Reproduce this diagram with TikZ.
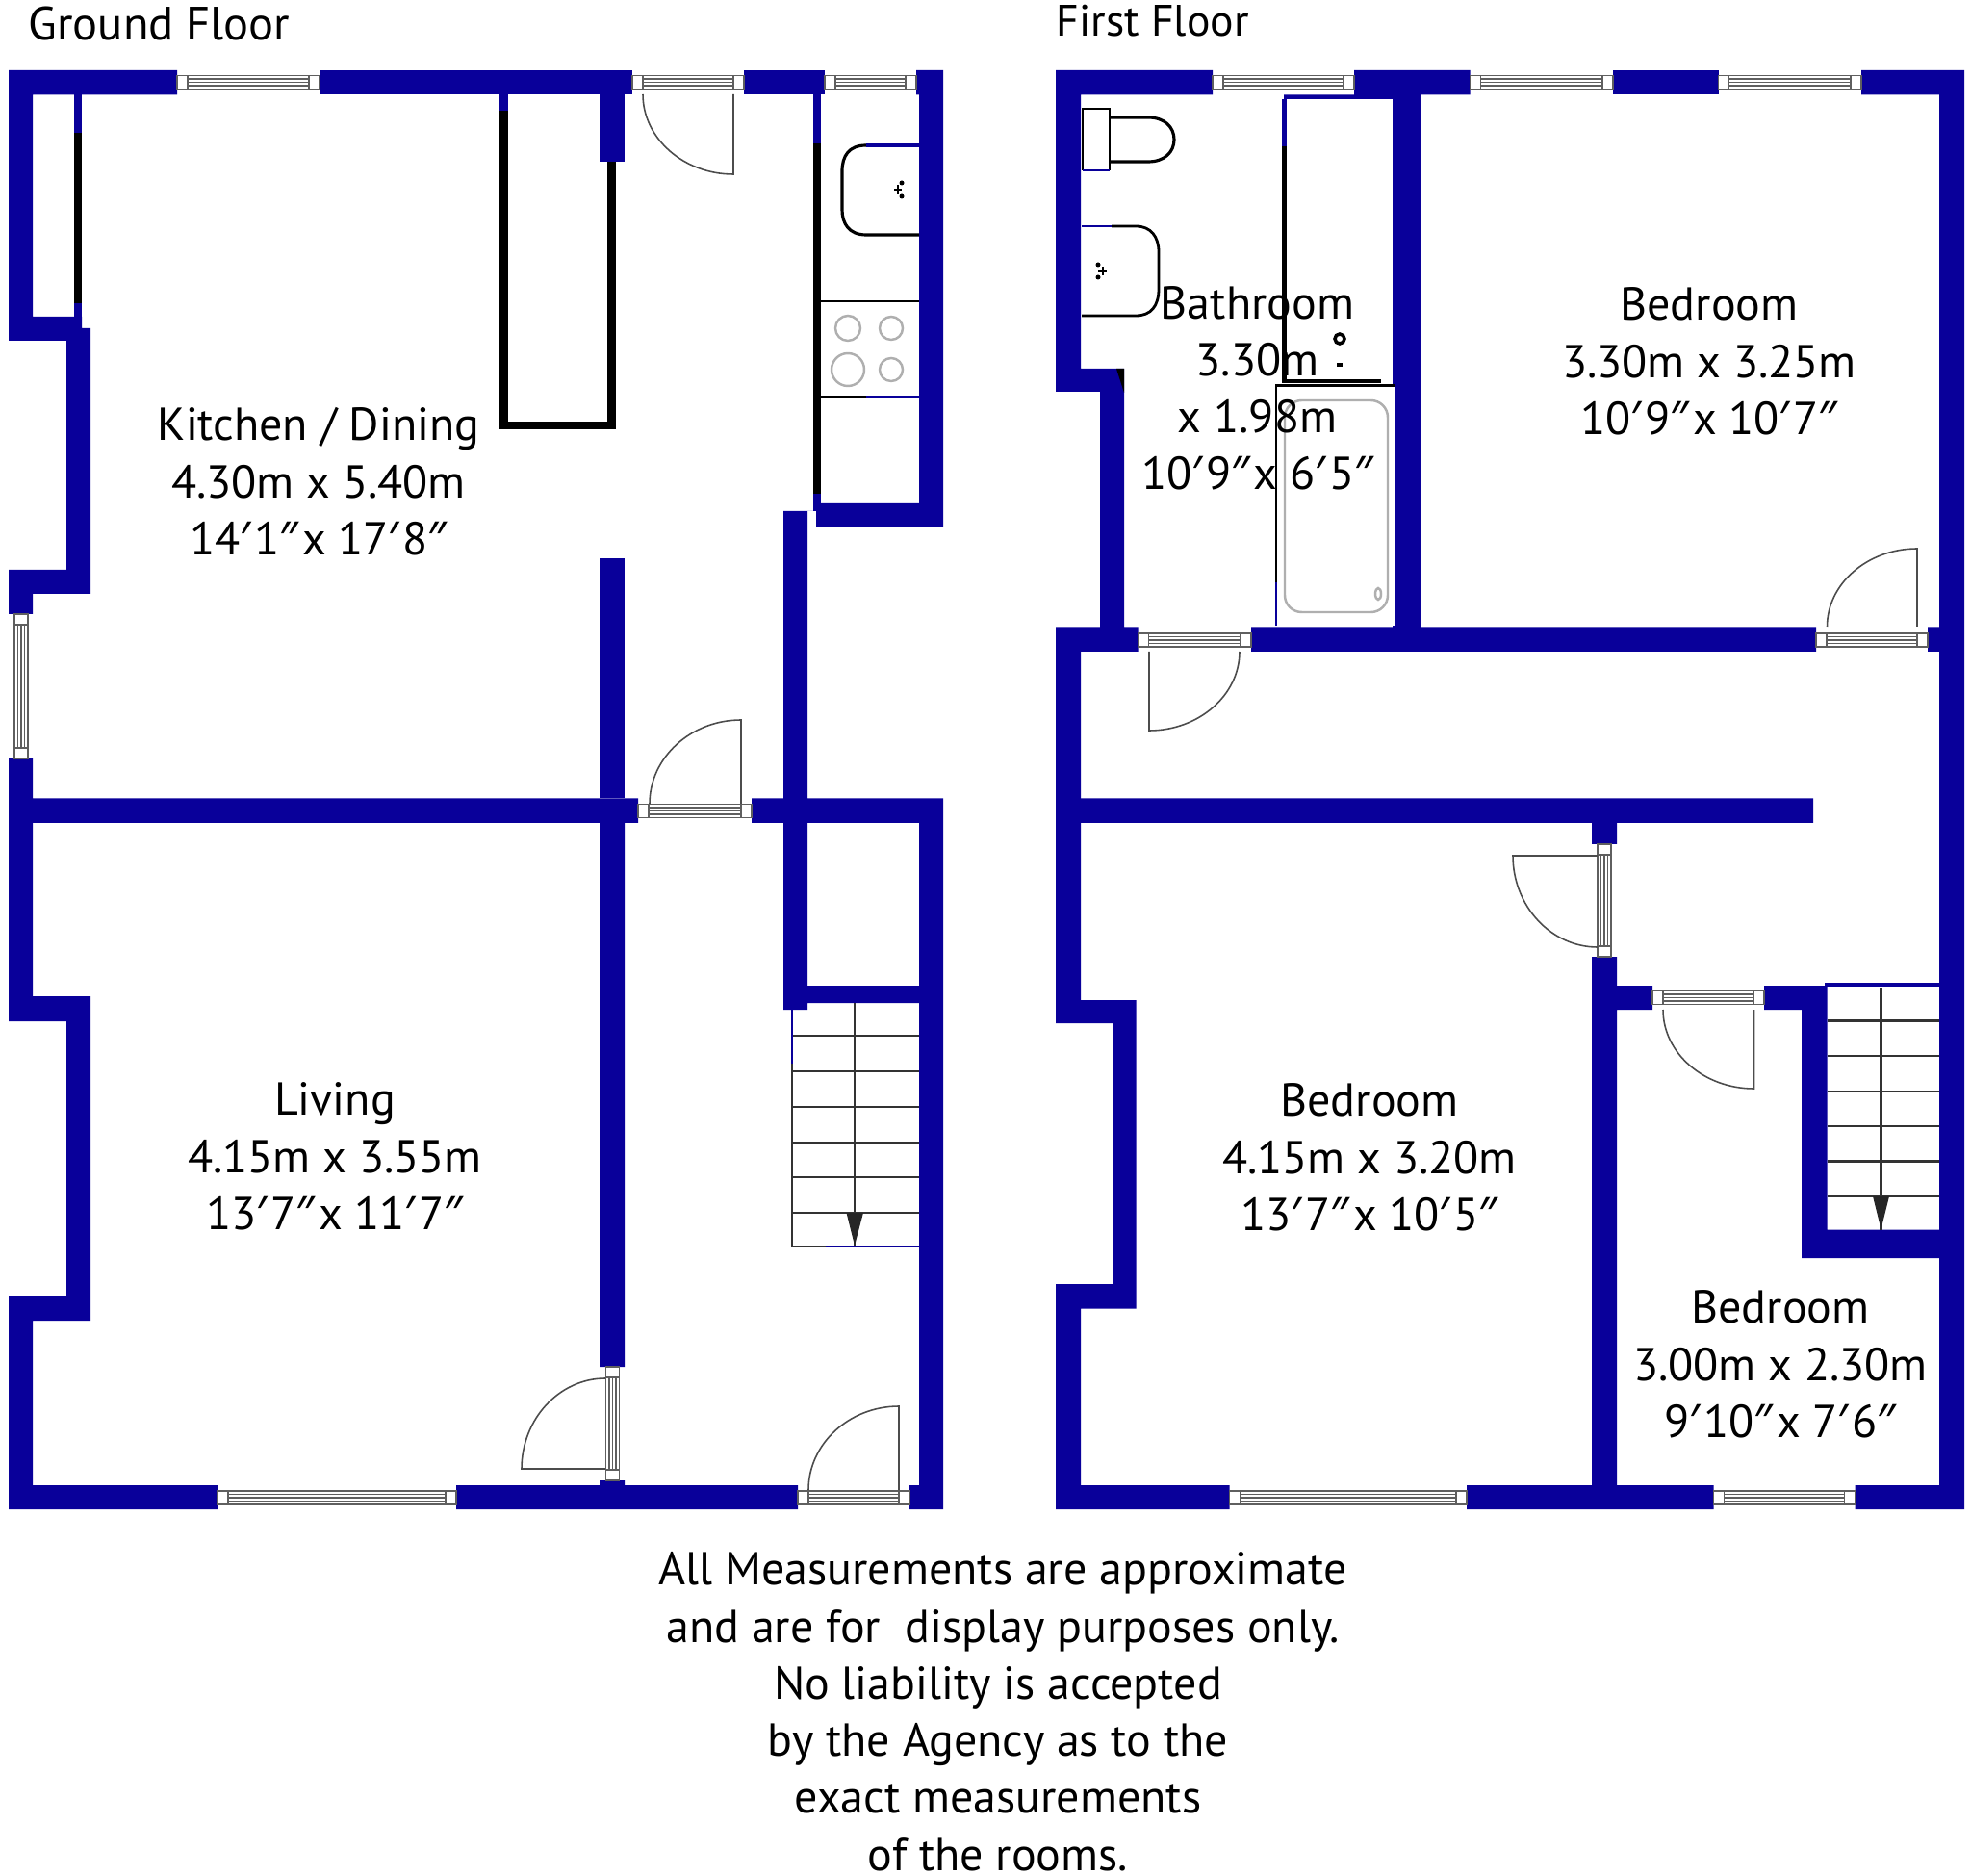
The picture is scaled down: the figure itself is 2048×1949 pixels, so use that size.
\documentclass[tikz,border=0pt]{standalone}
\usepackage{fontspec}
\setmainfont{PT Sans}
\newfontfamily\primefont{Noto Sans}
\usepackage{xcolor}
\definecolor{wallblue}{RGB}{9,0,154}
\definecolor{linegrey}{RGB}{95,95,95}
\definecolor{hobgrey}{RGB}{175,175,175}
\newcommand{\fmk}{{\primefont ′}\hspace{-2.6pt}}
\newcommand{\inmk}{{\primefont ″}\hspace{-2.6pt}}
\newcommand{\hwindow}[3]{%
  \draw[winline,fill=white] (#1,#3-7) rectangle (#2,#3+7);
  \draw[winline] (#1+11,#3-7) -- (#1+11,#3+7) (#2-11,#3-7) -- (#2-11,#3+7);
  \draw[winline] (#1+11,#3-3.5) -- (#2-11,#3-3.5) (#1+11,#3) -- (#2-11,#3) (#1+11,#3+3.5) -- (#2-11,#3+3.5);
}
\newcommand{\vwindow}[3]{%
  \draw[winline,fill=white] (#3-7,#1) rectangle (#3+7,#2);
  \draw[winline] (#3-7,#1+11) -- (#3+7,#1+11) (#3-7,#2-11) -- (#3+7,#2-11);
  \draw[winline] (#3-3.5,#1+11) -- (#3-3.5,#2-11) (#3,#1+11) -- (#3,#2-11) (#3+3.5,#1+11) -- (#3+3.5,#2-11);
}
\newcommand{\doorswing}[6]{%
  \draw[doorline] (#1,#2) -- (#3,#4) .. controls (#3+0.55*#5-0.55*#1,#4+0.55*#6-0.55*#2) and (#5+0.55*#3-0.55*#1,#6+0.55*#4-0.55*#2) .. (#5,#6);
}
\begin{document}
\begin{tikzpicture}[x=0.01cm,y=-0.01cm,
    wall/.style={fill=wallblue},
    winline/.style={draw=linegrey,line width=0.45pt},
    doorline/.style={draw=linegrey!80!black,line width=0.45pt},
    fitting/.style={draw=black,line width=0.6pt},
    blackwall/.style={draw=black,line width=2.4pt},
    bluewall/.style={draw=wallblue,line width=2.4pt},
    treadline/.style={draw=black!80,line width=0.6pt},
    roomlabel/.style={align=center,inner sep=0pt,text=black,
      font=\fontsize{13.65}{16.85}\selectfont,
      execute at begin node=\strut,execute at end node=\strut},
    noticelabel/.style={align=center,inner sep=0pt,text=black,anchor=north,text depth=0pt,
      font=\fontsize{13.65}{16.85}\selectfont,
      execute at begin node=\strut},
    floorlabel/.style={anchor=base west,inner sep=0pt,text=black,
      font=\fontsize{13.8}{16.85}\selectfont}]
  \useasboundingbox (0,0) rectangle (2048,1949);
  % Ground floor outer walls
  \fill[wall] (9,73) -- (184,73) -- (184,98.5) -- (34,98.5) -- (34,329) -- (85,329) -- (85,341) -- (94,341) -- (94,617) -- (34,617) -- (34,638) -- (9,638) -- (9,592) -- (69,592) -- (69,354) -- (9,354) -- cycle;
  \fill[wall] (332,73) rectangle (657,98.5);
  \fill[wall] (773,73) rectangle (857,98.5);
  \fill[wall] (952,73) -- (980,73) -- (980,547) -- (848,547) -- (848,531) -- (839,531) -- (839,829.5) -- (980,829.5) -- (980,1568) -- (945,1568) -- (945,1543) -- (955,1543) -- (955,855) -- (839,855) -- (839,1024) -- (955,1024) -- (955,1042) -- (839,1042) -- (839,1049) -- (814,1049) -- (814,855) -- (781,855) -- (781,829.5) -- (814,829.5) -- (814,531) -- (848,531) -- (848,523) -- (955,523) -- (955,98.5) -- (952,98.5) -- cycle;
  \fill[wall] (9,788) -- (34,788) -- (34,829.5) -- (663,829.5) -- (663,855) -- (649,855) -- (649,1420) -- (623,1420) -- (623,855) -- (34,855) -- (34,1035) -- (94,1035) -- (94,1372) -- (34,1372) -- (34,1543) -- (226,1543) -- (226,1568) -- (9,1568) -- (9,1346) -- (69,1346) -- (69,1061) -- (9,1061) -- cycle;
  \fill[wall] (623,580) rectangle (649,829.5);
  \fill[wall] (623,98) rectangle (649,168);
  \fill[wall] (474,1543) -- (623,1543) -- (623,1538) -- (649,1538) -- (649,1543) -- (829,1543) -- (829,1568) -- (474,1568) -- cycle;
  % Ground floor windows and doors
  \hwindow{184}{332}{85.5}
  \hwindow{657}{773}{85.5}
  \hwindow{857}{952}{85.5}
  \hwindow{226}{474}{1556}
  \hwindow{829}{945}{1556}
  \hwindow{663}{781}{842.5}
  \vwindow{638}{788}{22}
  \vwindow{1420}{1538}{636.5}
  \doorswing{762}{98}{762}{181}{668}{98}
  \doorswing{770}{835}{770}{748}{675}{835}
  \doorswing{629}{1526}{542}{1526}{629}{1432}
  \doorswing{934}{1548}{934}{1461}{840}{1548}
  % Ground floor cupboards
  \draw[bluewall] (81,98) -- (81,138);
  \draw[blackwall] (81,138) -- (81,315);
  \draw[bluewall] (81,315) -- (81,341);
  \draw[bluewall] (523.5,98) -- (523.5,115);
  \draw[blackwall] (523.5,115) -- (523.5,442) -- (635.5,442) -- (635.5,168);
  \draw[bluewall] (849,98) -- (849,149);
  \draw[blackwall] (849,149) -- (849,513);
  \draw[bluewall] (849,513) -- (849,531);
  % Kitchen sink and hob
  \draw[fitting,line width=0.9pt] (955,244) -- (900,244) .. controls (882,244) and (875,232) .. (875,218) -- (875,178) .. controls (875,162) and (882,151) .. (900,151);
  \draw[draw=wallblue,line width=0.9pt] (900,151) -- (955,151);
  \fill (937,190) circle (2.5) (937,204) circle (2.5);
  \draw[fitting] (929,197) -- (937,197) (933,192) -- (933,202);
  \draw[fitting,line width=0.8pt] (955,313) -- (850,313) -- (850,412) -- (900,412);
  \draw[draw=wallblue,line width=0.8pt] (900,412) -- (955,412);
  \draw[hobgrey,line width=0.7pt] (881,341) circle (13) (926,341) circle (12) (881,384) circle (17) (926,384) circle (12);
  % Ground floor stairs
  \foreach \treadY in {1076,1113,1150,1187,1223,1260} {
    \draw[treadline] (823,\treadY) -- (955,\treadY);
  }
  \draw[treadline] (888,1042) -- (888,1295);
  \draw[treadline,line width=0.8pt] (823,1049) -- (823,1295) -- (858,1295);
  \draw[draw=wallblue,line width=0.8pt] (858,1295) -- (955,1295);
  \draw[draw=wallblue,line width=0.8pt] (823,1049) -- (823,1105);
  \fill[black!85] (879.5,1260) -- (897,1260) -- (888,1294) -- cycle;
  % First floor outer walls
  \fill[wall] (1097,73) -- (1260,73) -- (1260,98.5) -- (1123,98.5) -- (1123,383) -- (1168,383) -- (1168,651.5) -- (1182.5,651.5) -- (1182.5,677) -- (1123,677) -- (1123,1039) -- (1180.5,1039) -- (1180.5,1359.5) -- (1123,1359.5) -- (1123,1543) -- (1277.5,1543) -- (1277.5,1568) -- (1097,1568) -- (1097,1334) -- (1156,1334) -- (1156,1063) -- (1097,1063) -- (1097,651.5) -- (1143,651.5) -- (1143,407) -- (1097,407) -- cycle;
  \fill[wall] (1407,73) -- (1527.5,73) -- (1527.5,98.5) -- (1476,98.5) -- (1476,651.5) -- (1887,651.5) -- (1887,677) -- (1300,677) -- (1300,651.5) -- (1447,651.5) -- (1447,103) -- (1334,103) -- (1334,98.5) -- (1407,98.5) -- cycle;
  \fill[wall] (1676,73) rectangle (1785.5,98.5);
  \fill[wall] (1934,73) -- (2041,73) -- (2041,1568) -- (1927.5,1568) -- (1927.5,1543) -- (2015,1543) -- (2015,1307) -- (1872,1307) -- (1872,1049) -- (1833,1049) -- (1833,1024) -- (1898.5,1024) -- (1898.5,1277.5) -- (2015,1277.5) -- (2015,677) -- (2003,677) -- (2003,651.5) -- (2015,651.5) -- (2015,98.5) -- (1934,98.5) -- cycle;
  \fill[wall] (1123,829.5) -- (1884,829.5) -- (1884,855) -- (1680,855) -- (1680,877) -- (1654,877) -- (1654,855) -- (1123,855) -- cycle;
  \fill[wall] (1654,994) -- (1680,994) -- (1680,1024) -- (1717,1024) -- (1717,1049) -- (1680,1049) -- (1680,1543) -- (1780.5,1543) -- (1780.5,1568) -- (1524,1568) -- (1524,1543) -- (1654,1543) -- cycle;
  % First floor windows and doors
  \hwindow{1260}{1407}{85.5}
  \hwindow{1527.5}{1676}{85.5}
  \hwindow{1785.5}{1934}{85.5}
  \hwindow{1182.5}{1300}{665}
  \hwindow{1887}{2003}{665}
  \hwindow{1717}{1833}{1036.5}
  \hwindow{1277.5}{1524}{1556}
  \hwindow{1780.5}{1927.5}{1556}
  \vwindow{877}{994}{1667}
  \doorswing{1194}{677}{1194}{759}{1288}{677}
  \doorswing{1992}{651}{1992}{570}{1898.5}{651}
  \doorswing{1660}{889}{1572}{889}{1660}{984}
  \doorswing{1822.5}{1049}{1822.5}{1131}{1728}{1049}
  % Bathroom fittings
  \draw[bluewall,line width=1.5pt] (1334.5,103) -- (1334.5,152);
  \draw[blackwall,line width=1.2pt] (1334.5,152) -- (1334.5,396) -- (1435,396);
  \fill[black] (1160,383) -- (1168,383) -- (1168,408) -- cycle;
  \draw[fitting] (1125,177) -- (1125,113) -- (1153,113) -- (1153,177);
  \draw[draw=wallblue,line width=0.8pt] (1125,177) -- (1153,177);
  \draw[fitting,line width=0.9pt] (1153,122) -- (1193,122) .. controls (1210,122) and (1220,132) .. (1220,145) .. controls (1220,158) and (1210,168) .. (1193,168) -- (1153,168);
  \draw[draw=wallblue,line width=0.8pt] (1124,235) -- (1155,235);
  \draw[fitting,line width=0.8pt] (1155,235) -- (1180,235) .. controls (1196,235) and (1204,246) .. (1204,262) -- (1204,300) .. controls (1204,318) and (1196,328) .. (1180,328) -- (1124,328);
  \fill (1141,275) circle (2.5) (1141,288) circle (2.5);
  \draw[fitting] (1141,281.5) -- (1150,281.5) (1146,277) -- (1146,286);
  \draw[line width=1pt] (1392,352) circle (5);
  \draw[line width=0.9pt] (1389,379) -- (1395,379);
  \fill[white] (1326,400.5) rectangle (1449,650);
  \draw[fitting] (1326,605) -- (1326,400.5) -- (1449,400.5);
  \draw[draw=wallblue,line width=0.6pt] (1326,605) -- (1326,650);
  \draw[hobgrey,line width=0.7pt,rounded corners=5] (1335,416) rectangle (1442,636);
  \draw[hobgrey,line width=0.7pt] (1432,617) ellipse (3 and 6);
  % First floor stairs
  \foreach \treadY in {1060.5,1097,1134,1170,1206.5,1243} {
    \draw[treadline] (1898.5,\treadY) -- (2015,\treadY);
  }
  \draw[treadline] (1954.5,1026) -- (1954.5,1277.5);
  \draw[draw=wallblue,line width=1pt] (1896,1023) -- (2015,1023);
  \fill[black!85] (1946,1243) -- (1963,1243) -- (1954.5,1277) -- cycle;
  % Labels
  \node[floorlabel] (groundtitle) at (29,42) {Ground Floor};
  \node[floorlabel,font=\fontsize{13}{16.85}\selectfont] (firsttitle) at (1097,38) {First Floor};
  \node[roomlabel] (kitchen) at (331,509) {Kitchen / Dining\\4.30m x 5.40m\\14\fmk{} 1\inmk{} x 17\fmk{} 8\inmk{}};
  \node[roomlabel] (living) at (348,1210) {Living\\4.15m x 3.55m\\13\fmk{} 7\inmk{} x 11\fmk{} 7\inmk{}};
  \node[roomlabel] (bathroom) at (1306.5,412) {Bathroom\\3.30m\hspace*{2.85pt}\\x 1.98m\\10\fmk{} 9\inmk{} x 6\fmk{} 5\inmk{}};
  \node[roomlabel] (bedfront) at (1776,384) {Bedroom\\3.30m x 3.25m\\10\fmk{} 9\inmk{} x 10\fmk{} 7\inmk{}};
  \node[roomlabel] (bedrear) at (1423,1211) {Bedroom\\4.15m x 3.20m\\13\fmk{} 7\inmk{} x 10\fmk{} 5\inmk{}};
  \node[roomlabel] (bedsmall) at (1850,1426) {Bedroom\\3.00m x 2.30m\\9\fmk{} 10\inmk{} x 7\fmk{} 6\inmk{}};
  \node[noticelabel] (disclaimer) at (1037,1612) {\hspace*{2.8pt}All Measurements are approximate\\\hspace*{2.8pt}and are for\ \ display purposes only.\\No liability is accepted\\by the Agency as to the\\exact measurements\\of the rooms.};
\end{tikzpicture}
\end{document}
